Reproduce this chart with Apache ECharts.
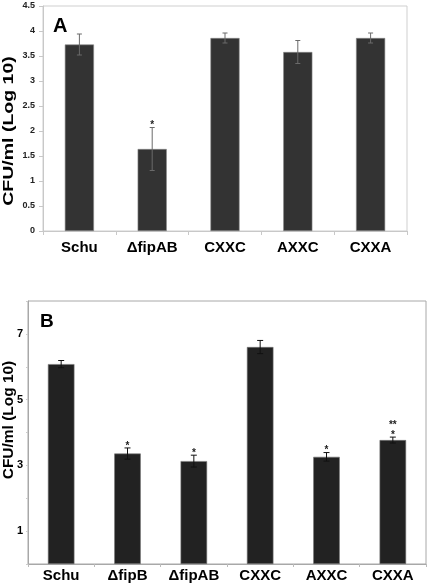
<!DOCTYPE html>
<html><head><meta charset="utf-8">
<script src="https://cdn.jsdelivr.net/npm/echarts@6/dist/echarts.min.js"></script>
<style>html,body{margin:0;padding:0;background:#fff}#c{width:430px;height:584px}</style>
</head><body><div id="c"></div>
<script>
// Panel A
const catsA = ['Schu', '\u0394fipAB', 'CXXC', 'AXXC', 'CXXA'];
const meanA = [3.73, 1.64, 3.86, 3.58, 3.86];
const errA = [0.21, 0.43, 0.10, 0.23, 0.10];
const starsA = ['', '*', '', '', ''];
const ticksA = { min: 0, max: 4.5, interval: 0.5 };
// Panel B
const catsB = ['Schu', '\u0394fipB', '\u0394fipAB', 'CXXC', 'AXXC', 'CXXA'];
const meanB = [6.08, 3.36, 3.13, 6.60, 3.26, 3.77];
const errB = [0.11, 0.17, 0.18, 0.20, 0.13, 0.09];
const starsB = ['', '*', '*', '', '*', '*|**'];
const ticksB = { min: 0, max: 8, interval: 1 };
const yTitle = 'CFU/ml (Log 10)';

const chart = echarts.init(document.getElementById('c'), null, { renderer: 'canvas' });
const FONT = 'Arial, "Liberation Sans", Helvetica, sans-serif';

function errData(mean, err, stars) {
  return mean.map((m, i) => [i, m - err[i], m + err[i], stars[i]]);
}
function makeErr(color, cap, lw) {
  return function (params, api) {
    const x = api.value(0);
    const lo = api.value(1), hi = api.value(2);
    const pHi = api.coord([x, hi]);
    const pLo = api.coord([x, lo]);
    const st = { stroke: color, lineWidth: lw };
    const ch = [
      { type: 'line', shape: { x1: pHi[0], y1: pHi[1], x2: pLo[0], y2: pLo[1] }, style: st },
      { type: 'line', shape: { x1: pHi[0] - cap, y1: pHi[1], x2: pHi[0] + cap, y2: pHi[1] }, style: st },
      { type: 'line', shape: { x1: pLo[0] - cap, y1: pLo[1], x2: pLo[0] + cap, y2: pLo[1] }, style: st }
    ];
    const s = params.dataIndex !== undefined ? api.value(3) : '';
    const lines = (typeof s === 'string' && s) ? s.split('|') : [];
    lines.forEach((t, k) => {
      ch.push({ type: 'text', x: pHi[0], y: pHi[1] - 2 - k * 10,
        style: { text: t, font: 'bold 10px ' + FONT, fill: '#222', align: 'center', verticalAlign: 'middle', textAlign: 'center', textVerticalAlign: 'middle' } });
    });
    return { type: 'group', children: ch };
  };
}

const option = {
  animation: false,
  backgroundColor: '#fff',
  grid: [
    { left: 43, top: 6, width: 364, height: 225, show: true, borderColor: '#cfcfcf', borderWidth: 1, backgroundColor: 'transparent' },
    { left: 28, top: 301, width: 398, height: 263, show: true, borderColor: '#a8a8a8', borderWidth: 1, backgroundColor: 'transparent' }
  ],
  xAxis: [
    { type: 'category', gridIndex: 0, data: catsA,
      axisLine: { lineStyle: { color: '#c8c8c8' } },
      axisTick: { show: true, length: 4, lineStyle: { color: '#c8c8c8' } },
      axisLabel: { margin: 9, fontSize: 15, fontWeight: 'bold', color: '#000', fontFamily: FONT, interval: 0 } },
    { type: 'category', gridIndex: 1, data: catsB,
      axisLine: { lineStyle: { color: '#a8a8a8' } },
      axisTick: { show: true, length: 3, lineStyle: { color: '#bbb' } },
      axisLabel: { margin: 4, fontSize: 15, fontWeight: 'bold', color: '#000', fontFamily: FONT, interval: 0 } }
  ],
  yAxis: [
    { type: 'value', gridIndex: 0, min: ticksA.min, max: ticksA.max, interval: ticksA.interval,
      splitLine: { show: false },
      axisLine: { show: true, lineStyle: { color: '#c8c8c8' } },
      axisTick: { show: true, length: 4, lineStyle: { color: '#c8c8c8' } },
      axisLabel: { margin: 8, fontSize: 9, fontWeight: 'bold', color: '#222', fontFamily: FONT } },
    { type: 'value', gridIndex: 1, min: ticksB.min, max: ticksB.max, interval: ticksB.interval,
      splitLine: { show: false },
      axisLine: { show: true, lineStyle: { color: '#a8a8a8' } },
      axisTick: { show: true, length: 2, lineStyle: { color: '#ccc' } },
      axisLabel: { margin: 5, fontSize: 11, fontWeight: 'bold', color: '#000', fontFamily: FONT,
        formatter: v => (v % 2 === 1 ? String(v) : '') } }
  ],
  series: [
    { type: 'bar', xAxisIndex: 0, yAxisIndex: 0, data: meanA, barWidth: '40%',
      itemStyle: { color: '#333333', borderColor: '#888', borderWidth: 0.6 } },
    { type: 'custom', xAxisIndex: 0, yAxisIndex: 0, data: errData(meanA, errA, starsA),
      renderItem: makeErr('#6a6a6a', 2.5, 1), z: 5 },
    { type: 'bar', xAxisIndex: 1, yAxisIndex: 1, data: meanB, barWidth: '40%',
      itemStyle: { color: '#222222', borderColor: '#777', borderWidth: 0.6 } },
    { type: 'custom', xAxisIndex: 1, yAxisIndex: 1, data: errData(meanB, errB, starsB),
      renderItem: makeErr('#111', 3, 1), z: 5 }
  ],
  graphic: [
    { type: 'text', x: 9, y: 131, rotation: Math.PI / 2, scaleX: 1.3,
      style: { text: yTitle, font: 'bold 15px ' + FONT, fill: '#000', align: 'center', verticalAlign: 'middle', textAlign: 'center', textVerticalAlign: 'middle' } },
    { type: 'text', x: 9, y: 420, rotation: Math.PI / 2, scaleX: 1.03,
      style: { text: yTitle, font: 'bold 15px ' + FONT, fill: '#000', align: 'center', verticalAlign: 'middle', textAlign: 'center', textVerticalAlign: 'middle' } },
    { type: 'text', x: 53, y: 26,
      style: { text: 'A', font: 'bold 20px ' + FONT, fill: '#000', align: 'left', verticalAlign: 'middle', textAlign: 'left', textVerticalAlign: 'middle' } },
    { type: 'text', x: 40, y: 322,
      style: { text: 'B', font: 'bold 19px ' + FONT, fill: '#000', align: 'left', verticalAlign: 'middle', textAlign: 'left', textVerticalAlign: 'middle' } }
  ]
};
chart.setOption(option);
</script>
</body></html>
